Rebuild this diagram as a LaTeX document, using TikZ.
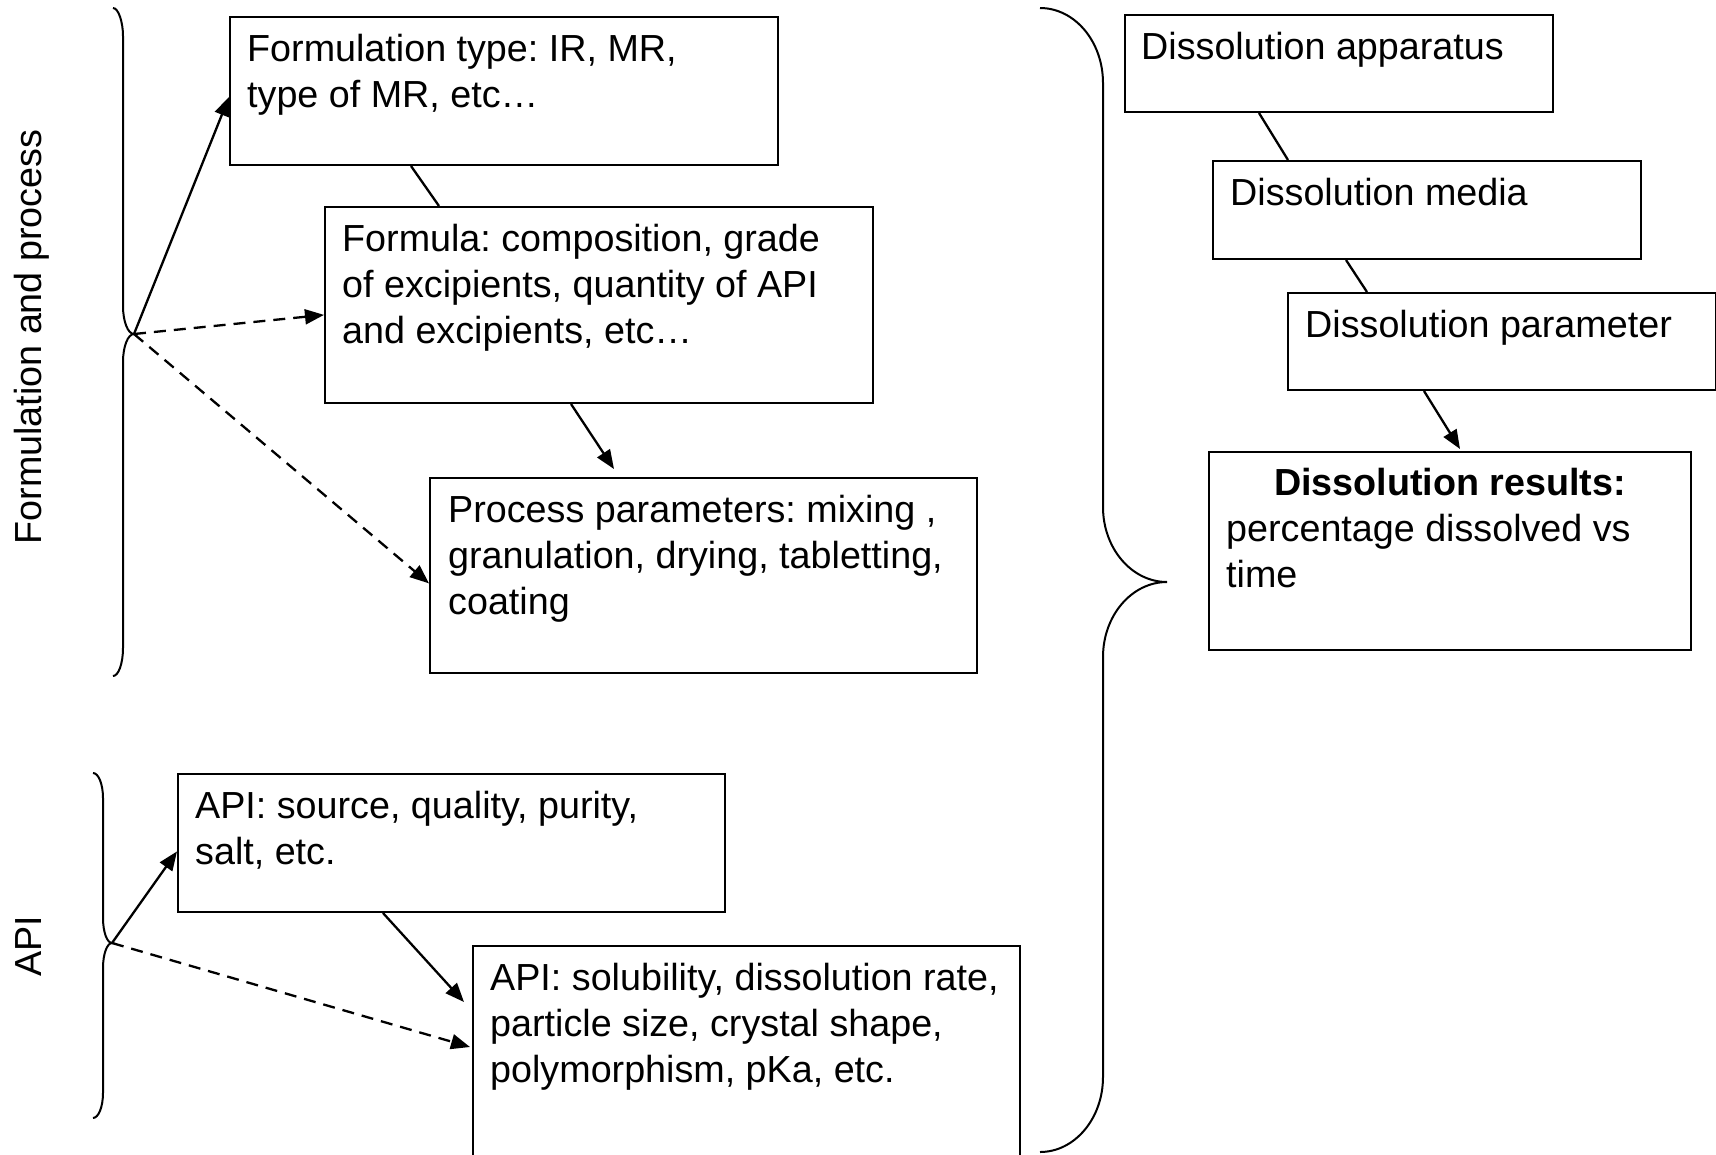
\documentclass[tikz,border=0pt]{standalone}
\usepackage{fontspec}
\setmainfont{Liberation Sans}
\usetikzlibrary{arrows.meta,calc}
\frenchspacing

\tikzset{
  bigfont/.style={font=\fontsize{37.7pt}{46pt}\selectfont},
  box/.style={draw=black, line width=2pt, rectangle, inner sep=0pt, anchor=north west},
  txt/.style={bigfont, anchor=north west, inner sep=0pt},
  lbl/.style={bigfont, inner sep=0pt},
  brace/.style={draw=black, line width=2pt},
  link/.style={draw=black, line width=2.3pt},
  arr/.style={link, -{Triangle[length=19pt,width=15pt]}},
  darr/.style={arr, dash pattern=on 12pt off 8pt},
}

\begin{document}
\begin{tikzpicture}[x=1pt, y=-1pt]
\clip (0,0) rectangle (1716,1154);
\fill[white] (0,0) rectangle (1716,1154);

% ---- formulation and process boxes
\node[box, minimum width=548pt, minimum height=148pt] (b1) at (229,16) {};
\node[box, minimum width=548pt, minimum height=196pt] (b2) at (324,206) {};
\node[box, minimum width=547pt, minimum height=195pt] (b3) at (429,477) {};
% ---- API boxes
\node[box, minimum width=547pt, minimum height=138pt] (b4) at (177,773) {};
\node[box, minimum width=547pt, minimum height=230pt] (b5) at (472,945) {};
% ---- dissolution boxes
\node[box, minimum width=428pt, minimum height=97pt] (d1) at (1124,14) {};
\node[box, minimum width=428pt, minimum height=98pt] (d2) at (1212,160) {};
\node[box, minimum width=428pt, minimum height=97pt] (d3) at (1287,292) {};
\node[box, minimum width=482pt, minimum height=198pt] (d4) at (1208,451) {};

% ---- box texts
\node[txt] (t1) at ([shift={(18,12.8)}]b1.north west)
  {\begin{tabular}{@{}l@{}}Formulation type: IR, MR,\\ type of MR, etc…\end{tabular}};
\node[txt] (t2) at ([shift={(18,12.8)}]b2.north west)
  {\begin{tabular}{@{}l@{}}Formula: composition, grade\\ of excipients, quantity of API\\ and excipients, etc…\end{tabular}};
\node[txt] (t3) at ([shift={(19,12.8)}]b3.north west)
  {\begin{tabular}{@{}l@{}}Process parameters: mixing ,\\ granulation, drying, tabletting,\\ coating\end{tabular}};
\node[txt] (t4) at ([shift={(18,12.8)}]b4.north west)
  {\begin{tabular}{@{}l@{}}API: source, quality, purity,\\ salt, etc.\end{tabular}};
\node[txt] (t5) at ([shift={(18,12.8)}]b5.north west)
  {\begin{tabular}{@{}l@{}}API: solubility, dissolution rate,\\ particle size, crystal shape,\\ polymorphism, pKa, etc.\end{tabular}};
\node[txt] (s1) at ([shift={(17,12.8)}]d1.north west)
  {\begin{tabular}{@{}l@{}}Dissolution apparatus\end{tabular}};
\node[txt] (s2) at ([shift={(18,12.8)}]d2.north west)
  {\begin{tabular}{@{}l@{}}Dissolution media\end{tabular}};
\node[txt] (s3) at ([shift={(18,12.8)}]d3.north west)
  {\begin{tabular}{@{}l@{}}Dissolution parameter\end{tabular}};
\node[lbl, anchor=base, font=\fontsize{37.7pt}{46pt}\selectfont\bfseries] (s4h)
  at ([shift={(0,44)}]d4.north) {Dissolution results:};
\node[txt] (s4) at ([shift={(18,57.8)}]d4.north west)
  {\begin{tabular}{@{}l@{}}percentage dissolved vs\\ time\end{tabular}};

% ---- side labels
\node[lbl, rotate=90, anchor=base] (lf) at (41,337) {Formulation and process};
\node[lbl, rotate=90, anchor=base] (la) at (41,946) {API};

% ---- braces
\draw[brace] (113,8) .. controls (118.5,8) and (123,22.2) .. (123,36)
  -- (123,306) .. controls (123,321.5) and (127.9,334) .. (134,334)
  .. controls (127.9,334) and (123,346.5) .. (123,362)
  -- (123,648) .. controls (123,663.5) and (118.5,676) .. (113,676);
\draw[brace] (93,773) .. controls (98.5,773) and (103,784.2) .. (103,798)
  -- (103,918) .. controls (103,931.8) and (107,943) .. (112,943)
  .. controls (107,943) and (103,954.2) .. (103,968)
  -- (103,1093) .. controls (103,1106.8) and (98.5,1118) .. (93,1118);
\draw[brace] (1040,8) .. controls (1074.8,8) and (1103,41.6) .. (1103,83)
  -- (1103,507) .. controls (1103,548.4) and (1131.7,582) .. (1167,582)
  .. controls (1131.7,582) and (1103,615.6) .. (1103,657)
  -- (1103,1077) .. controls (1103,1118.4) and (1074.8,1152) .. (1040,1152);

\coordinate (tipA) at (134,334);
\coordinate (tipB) at (112,943);

% ---- connectors, formulation side
\draw[arr] (tipA) -- ($(b1.north west)!0.54!(b1.south west)$);
\draw[darr] (tipA) -- ($(b2.north west)!0.55!(b2.south west)$);
\draw[darr] (tipA) -- ($(b3.north west)!0.54!(b3.south west)$);
\draw[link] ([xshift=182pt]b1.south west) -- ([xshift=115pt]b2.north west);
\draw[arr] ([xshift=247pt]b2.south west) -- ([shift={(185,-8)}]b3.north west);

% ---- connectors, API side
\draw[arr] (tipB) -- ($(b4.north west)!0.56!(b4.south west)$);
\draw[darr] (tipB) -- ([shift={(-2,102)}]b5.north west);
\draw[arr] ([xshift=206pt]b4.south west) -- ([shift={(-8,57)}]b5.north west);

% ---- connectors, dissolution side
\draw[link] ([xshift=135pt]d1.south west) -- ([xshift=76pt]d2.north west);
\draw[link] ([xshift=134pt]d2.south west) -- ([xshift=80pt]d3.north west);
\draw[arr] ([xshift=137pt]d3.south west) -- ([shift={(252,-2)}]d4.north west);
\end{tikzpicture}
\end{document}
